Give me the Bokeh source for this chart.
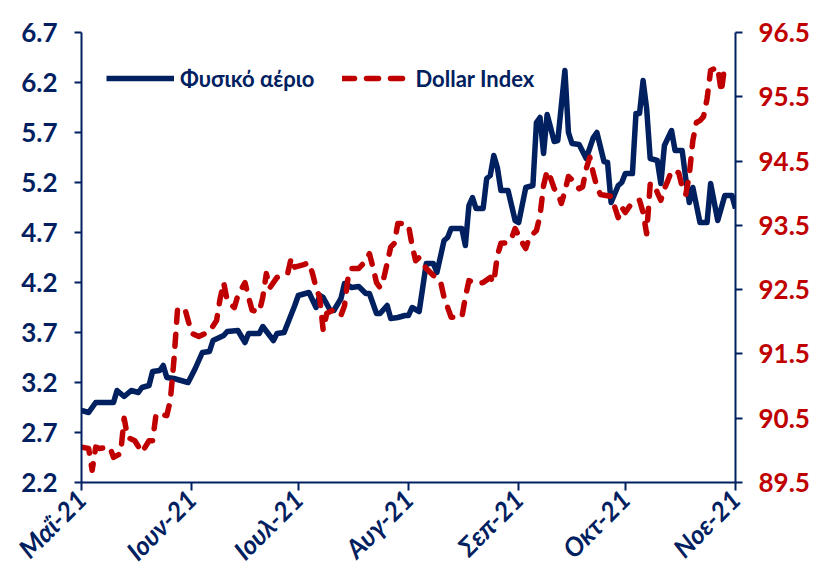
import pandas as pd
from bokeh.plotting import figure
from bokeh.models import (LinearAxis, Range1d, FixedTicker, CustomJSTickFormatter,
                          PrintfTickFormatter, Legend, LegendItem)
from bokeh.embed import file_html
from bokeh.resources import INLINE

# ---------------- data ----------------
gas_dates = [
    "2021-05-01", "2021-05-03", "2021-05-05", "2021-05-10", "2021-05-11", "2021-05-13",
    "2021-05-15", "2021-05-17", "2021-05-18", "2021-05-20", "2021-05-21", "2021-05-23",
    "2021-05-24", "2021-05-25", "2021-05-27", "2021-05-29", "2021-05-31", "2021-06-02",
    "2021-06-04", "2021-06-06", "2021-06-07", "2021-06-10", "2021-06-11", "2021-06-14",
    "2021-06-16", "2021-06-17", "2021-06-20", "2021-06-21", "2021-06-24", "2021-06-25",
    "2021-06-27", "2021-06-30", "2021-07-01", "2021-07-02", "2021-07-04", "2021-07-06",
    "2021-07-07", "2021-07-08", "2021-07-10", "2021-07-11", "2021-07-13", "2021-07-14",
    "2021-07-16", "2021-07-18", "2021-07-20", "2021-07-21", "2021-07-23", "2021-07-24",
    "2021-07-26", "2021-07-27", "2021-07-29", "2021-07-31", "2021-08-01", "2021-08-02",
    "2021-08-04", "2021-08-06", "2021-08-08", "2021-08-09", "2021-08-11", "2021-08-12",
    "2021-08-13", "2021-08-16", "2021-08-17", "2021-08-18", "2021-08-19", "2021-08-20",
    "2021-08-22", "2021-08-23", "2021-08-24", "2021-08-25", "2021-08-26", "2021-08-27",
    "2021-08-29", "2021-08-31", "2021-09-01", "2021-09-03", "2021-09-05", "2021-09-06",
    "2021-09-07", "2021-09-08", "2021-09-09", "2021-09-11", "2021-09-12", "2021-09-14",
    "2021-09-15", "2021-09-16", "2021-09-18", "2021-09-20", "2021-09-22", "2021-09-23",
    "2021-09-25", "2021-09-26", "2021-09-27", "2021-09-29", "2021-09-30", "2021-10-01",
    "2021-10-03", "2021-10-04", "2021-10-05", "2021-10-06", "2021-10-07", "2021-10-08",
    "2021-10-10", "2021-10-11", "2021-10-12", "2021-10-14", "2021-10-15", "2021-10-17",
    "2021-10-18", "2021-10-19", "2021-10-20", "2021-10-22", "2021-10-24", "2021-10-25",
    "2021-10-27", "2021-10-29", "2021-10-31", "2021-11-01",
]
gas_values = [
    2.92, 2.90, 3.00, 3.00, 3.12, 3.06,
    3.12, 3.10, 3.15, 3.17, 3.31, 3.32,
    3.37, 3.25, 3.24, 3.22, 3.20, 3.34,
    3.50, 3.51, 3.62, 3.67, 3.71, 3.72,
    3.60, 3.69, 3.69, 3.76, 3.62, 3.69,
    3.70, 3.97, 4.07, 4.08, 4.10, 3.95,
    4.07, 4.05, 3.92, 3.92, 4.04, 4.19,
    4.15, 4.16, 4.09, 4.09, 3.89, 3.89,
    3.97, 3.84, 3.85, 3.87, 3.87, 3.95,
    3.91, 4.39, 4.39, 4.30, 4.62, 4.65,
    4.74, 4.74, 4.57, 4.97, 5.05, 4.94,
    4.94, 5.24, 5.27, 5.47, 5.35, 5.12,
    5.12, 4.82, 4.80, 5.15, 5.17, 5.80,
    5.85, 5.49, 5.88, 5.61, 5.62, 6.32,
    5.70, 5.59, 5.58, 5.44, 5.65, 5.70,
    5.41, 5.40, 5.00, 5.17, 5.20, 5.29,
    5.29, 5.89, 5.89, 6.22, 5.94, 5.44,
    5.42, 5.19, 5.57, 5.72, 5.52, 5.52,
    5.24, 5.00, 5.15, 4.80, 4.80, 5.19,
    4.82, 5.07, 5.07, 4.94,
]

dxy_dates = [
    "2021-05-01", "2021-05-03", "2021-05-04", "2021-05-05", "2021-05-06", "2021-05-09",
    "2021-05-10", "2021-05-12", "2021-05-13", "2021-05-14", "2021-05-16", "2021-05-18",
    "2021-05-20", "2021-05-21", "2021-05-22", "2021-05-25", "2021-05-26", "2021-05-27",
    "2021-05-28", "2021-05-30", "2021-05-31", "2021-06-01", "2021-06-03", "2021-06-06",
    "2021-06-08", "2021-06-09", "2021-06-10", "2021-06-11", "2021-06-13", "2021-06-14",
    "2021-06-16", "2021-06-17", "2021-06-18", "2021-06-20", "2021-06-21", "2021-06-22",
    "2021-06-23", "2021-06-25", "2021-06-28", "2021-06-29", "2021-06-30", "2021-07-02",
    "2021-07-04", "2021-07-05", "2021-07-06", "2021-07-07", "2021-07-08", "2021-07-09",
    "2021-07-11", "2021-07-13", "2021-07-14", "2021-07-15", "2021-07-16", "2021-07-18",
    "2021-07-20", "2021-07-21", "2021-07-22", "2021-07-23", "2021-07-24", "2021-07-25",
    "2021-07-26", "2021-07-27", "2021-07-28", "2021-07-29", "2021-07-31", "2021-08-01",
    "2021-08-02", "2021-08-03", "2021-08-04", "2021-08-06", "2021-08-08", "2021-08-10",
    "2021-08-11", "2021-08-13", "2021-08-16", "2021-08-17", "2021-08-18", "2021-08-20",
    "2021-08-22", "2021-08-24", "2021-08-25", "2021-08-26", "2021-08-27", "2021-08-29",
    "2021-08-30", "2021-08-31", "2021-09-02", "2021-09-03", "2021-09-04", "2021-09-06",
    "2021-09-07", "2021-09-08", "2021-09-09", "2021-09-10", "2021-09-11", "2021-09-12",
    "2021-09-13", "2021-09-14", "2021-09-15", "2021-09-16", "2021-09-18", "2021-09-19",
    "2021-09-20", "2021-09-21", "2021-09-22", "2021-09-23", "2021-09-24", "2021-09-27",
    "2021-09-28", "2021-09-29", "2021-09-30", "2021-10-01", "2021-10-03", "2021-10-05",
    "2021-10-06", "2021-10-07", "2021-10-08", "2021-10-09", "2021-10-10", "2021-10-11",
    "2021-10-12", "2021-10-13", "2021-10-14", "2021-10-16", "2021-10-17", "2021-10-18",
    "2021-10-19", "2021-10-20", "2021-10-21", "2021-10-22", "2021-10-23", "2021-10-24",
    "2021-10-25", "2021-10-27", "2021-10-28", "2021-10-29",
]
dxy_values = [
    90.05, 90.03, 89.69, 90.05, 90.03, 90.05,
    89.89, 89.95, 90.50, 90.20, 90.15, 89.97,
    90.15, 90.15, 90.57, 90.54, 90.78, 91.40,
    92.18, 92.22, 92.02, 91.82, 91.77, 91.85,
    92.02, 92.36, 92.61, 92.33, 92.22, 92.41,
    92.61, 92.38, 92.18, 92.15, 92.38, 92.75,
    92.53, 92.69, 92.75, 92.99, 92.85, 92.88,
    92.92, 92.75, 92.53, 92.38, 91.87, 92.13,
    92.19, 92.10, 92.25, 92.69, 92.83, 92.83,
    92.95, 93.06, 92.85, 92.61, 92.53, 92.67,
    92.91, 93.16, 93.22, 93.53, 93.53, 93.50,
    93.19, 92.95, 93.00, 92.83, 92.72, 92.63,
    92.38, 92.07, 92.07, 92.38, 92.64, 92.60,
    92.61, 92.69, 92.61, 93.03, 93.22, 93.23,
    93.30, 93.45, 93.23, 93.14, 93.31, 93.42,
    93.65, 94.12, 94.35, 94.23, 94.07, 94.01,
    93.84, 94.03, 94.26, 94.21, 94.07, 94.10,
    94.38, 94.56, 94.31, 94.10, 93.98, 93.95,
    93.79, 93.62, 93.78, 93.70, 93.86, 93.89,
    93.70, 93.37, 94.14, 94.15, 94.01, 93.89,
    94.07, 94.20, 94.35, 94.32, 94.10, 93.98,
    94.28, 94.82, 95.10, 95.13, 95.19, 95.47,
    95.91, 95.96, 95.57, 96.00,
]

month_ticks = ["2021-05-01", "2021-06-01", "2021-07-01", "2021-08-01",
               "2021-09-01", "2021-10-01", "2021-11-01"]
month_labels = ["Μαΐ-21", "Ιουν-21", "Ιουλ-21", "Αυγ-21", "Σεπ-21", "Οκτ-21", "Νοε-21"]
left_ticks = [2.2, 2.7, 3.2, 3.7, 4.2, 4.7, 5.2, 5.7, 6.2, 6.7]
right_ticks = [89.5, 90.5, 91.5, 92.5, 93.5, 94.5, 95.5, 96.5]

# ---------------- styling ----------------
NAVY = "#002060"
RED = "#C00000"
FONT = "Lato"
TICK_FS = "26px"

gas_x = pd.to_datetime(gas_dates)
dxy_x = pd.to_datetime(dxy_dates)
tick_ms = [float(pd.Timestamp(d).value // 10**6) for d in month_ticks]

p = figure(width=818, height=583, x_axis_type="datetime",
           x_range=Range1d(start=pd.Timestamp(month_ticks[0]), end=pd.Timestamp(month_ticks[-1])),
           y_range=Range1d(start=left_ticks[0], end=left_ticks[-1]),
           output_backend="svg", toolbar_location=None,
           min_border_left=81, min_border_right=83, min_border_top=32, min_border_bottom=101)
p.extra_y_ranges = {"dxy": Range1d(start=right_ticks[0], end=right_ticks[-1])}
p.outline_line_color = None
p.xgrid.visible = False
p.ygrid.visible = False
p.background_fill_color = "white"

r_gas = p.line(gas_x, gas_values, line_color=NAVY, line_width=5.5, line_join="round")
r_dxy = p.line(dxy_x, dxy_values, line_color=RED, line_width=5.5, line_dash="12 12",
               line_cap="round", line_join="round", y_range_name="dxy")

# left axis
ya = p.yaxis[0]
ya.ticker = FixedTicker(ticks=left_ticks)
ya.formatter = PrintfTickFormatter(format="%.1f")
ya.major_label_text_font = FONT
ya.major_label_text_font_style = "bold"
ya.major_label_text_font_size = TICK_FS
ya.major_label_text_color = NAVY
ya.axis_line_color = NAVY
ya.axis_line_width = 2
ya.major_tick_line_color = NAVY
ya.major_tick_line_width = 2
ya.major_tick_out = 7
ya.major_tick_in = 0
ya.minor_tick_line_color = None
ya.major_label_standoff = 17

# right axis
ra = LinearAxis(y_range_name="dxy", ticker=FixedTicker(ticks=right_ticks),
                formatter=PrintfTickFormatter(format="%.1f"))
ra.major_label_text_font = FONT
ra.major_label_text_font_style = "bold"
ra.major_label_text_font_size = TICK_FS
ra.major_label_text_color = RED
ra.axis_line_color = NAVY
ra.axis_line_width = 2
ra.major_tick_line_color = NAVY
ra.major_tick_line_width = 2
ra.major_tick_out = 7
ra.major_tick_in = 0
ra.minor_tick_line_color = None
ra.major_label_standoff = 16
p.add_layout(ra, "right")

# bottom axis
xa = p.xaxis[0]
xa.ticker = FixedTicker(ticks=tick_ms)
xa.formatter = CustomJSTickFormatter(args=dict(tvals=tick_ms, lbls=month_labels), code="""
    let best = -1, bd = 1e20;
    for (let i = 0; i < tvals.length; i++) {
        const d = Math.abs(tvals[i] - tick);
        if (d < bd) { bd = d; best = i; }
    }
    return (best >= 0 && bd < 86400000) ? lbls[best] : "";
""")
xa.major_label_orientation = 0.785398
xa.major_label_text_font = FONT
xa.major_label_text_font_style = "bold italic"
xa.major_label_text_font_size = TICK_FS
xa.major_label_text_color = NAVY
xa.axis_line_color = NAVY
xa.axis_line_width = 2
xa.major_tick_line_color = NAVY
xa.major_tick_line_width = 2
xa.major_tick_out = 8
xa.major_tick_in = 0
xa.minor_tick_line_color = None
xa.major_label_standoff = 4

legend = Legend(items=[LegendItem(label="Φυσικό αέριο", renderers=[r_gas]),
                       LegendItem(label="Dollar Index", renderers=[r_dxy])],
                location="top_left", orientation="horizontal",
                margin=0, padding=25, spacing=27,
                glyph_width=68, glyph_height=42, label_height=42, label_standoff=6,
                background_fill_alpha=0, border_line_alpha=0,
                label_text_font=FONT, label_text_font_style="bold",
                label_text_font_size="22px", label_text_color=NAVY)
p.add_layout(legend)

open("out.html", "w").write(file_html(p, INLINE))
